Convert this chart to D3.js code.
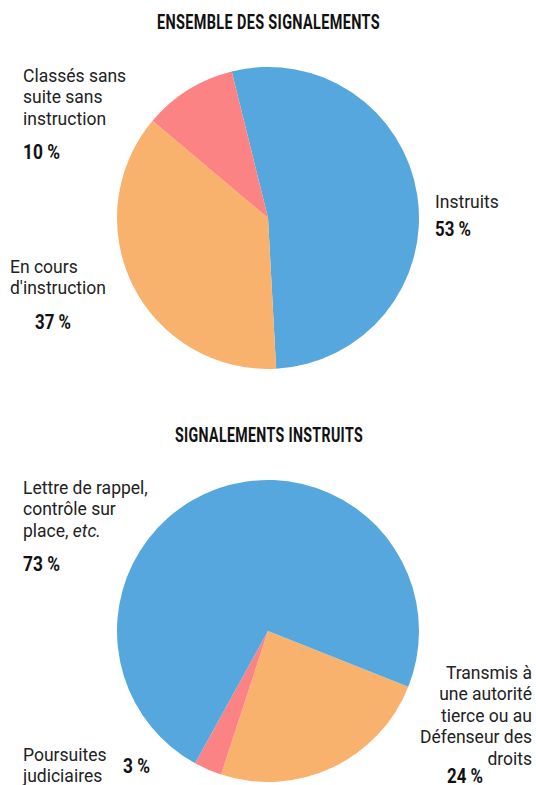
<!DOCTYPE html>
<html><head><meta charset="utf-8">
<script src="https://cdn.jsdelivr.net/npm/d3@7"></script>
<style>body{margin:0;background:#fff}svg{display:block}</style>
</head><body><svg id="c" width="536" height="785"></svg>
<script>
// Data
const titles = ["ENSEMBLE DES SIGNALEMENTS", "SIGNALEMENTS INSTRUITS"];
const topCategories = ["Instruits", "En cours d'instruction", "Classés sans suite sans instruction"];
const topValues = [53, 37, 10];
const bottomCategories = ["Transmis à une autorité tierce ou au Défenseur des droits", "Poursuites judiciaires", "Lettre de rappel, contrôle sur place, etc."];
const bottomValues = [24, 3, 73];
const colors = ["#55a7de", "#f8b26e", "#fc8383"];
const bottomColors = ["#f8b26e", "#fc8383", "#55a7de"];

const svg = d3.select("#c");
const R = 151;
const labelFont = "Roboto, 'Noto Sans', sans-serif";
const pctFont = "Roboto, 'DejaVu Sans Condensed', sans-serif";

function drawPie(cx, cy, values, cols, startDeg) {
  const pie = d3.pie().sort(null).startAngle(startDeg * Math.PI / 180).endAngle(startDeg * Math.PI / 180 + 2 * Math.PI);
  const arc = d3.arc().innerRadius(0).outerRadius(R);
  const g = svg.append("g").attr("transform", `translate(${cx},${cy})`);
  g.selectAll("path").data(pie(values)).join("path").attr("d", arc).attr("fill", (d, i) => cols[i]);
}

function title(txt, x, y, w) {
  svg.append("text").attr("x", x).attr("y", y).attr("text-anchor", "middle")
    .attr("font-family", pctFont).attr("font-weight", 700).attr("font-size", 20)
    .attr("textLength", w).attr("lengthAdjust", "spacingAndGlyphs")
    .attr("letter-spacing", 0.5).attr("fill", "#111").text(txt);
}

function label(lines, x, y, anchor) {
  const t = svg.append("text").attr("x", x).attr("y", y).attr("text-anchor", anchor || "start")
    .attr("font-family", labelFont).attr("font-size", 17.5).attr("fill", "#222");
  lines.forEach((l, i) => {
    const ts = t.append("tspan").attr("x", x).attr("dy", i === 0 ? 0 : 21.4);
    if (Array.isArray(l)) {
      l.forEach(part => ts.append("tspan").attr("font-style", part.i ? "italic" : null).text(part.t));
    } else ts.text(l);
  });
}

function pct(v, x, y, w) {
  svg.append("text").attr("x", x).attr("y", y)
    .attr("font-family", pctFont).attr("font-weight", 700).attr("font-size", 19.5)
    .attr("textLength", w).attr("lengthAdjust", "spacingAndGlyphs")
    .attr("fill", "#111").text(v + " %");
}

// Top pie
title(titles[0], 268.5, 29, 223);
drawPie(268, 218, topValues, colors, -13.9);
label(["Classés sans", "suite sans", "instruction"], 23, 82);
pct(topValues[2], 23, 158.5, 37);
label(["En cours", "d'instruction"], 10, 272.5);
pct(topValues[1], 35, 328.5, 36);
label(["Instruits"], 435, 208);
pct(topValues[0], 435, 235.5, 36);

// Bottom pie
title(titles[1], 269, 441.5, 188);
drawPie(268, 631, bottomValues, bottomColors, 111.7);
label(["Lettre de rappel,", "contrôle sur", [{t: "place, "}, {t: "etc.", i: true}]], 23, 494);
pct(bottomValues[2], 23, 570.5, 37);
label(["Transmis à", "une autorité", "tierce ou au", "Défenseur des", "droits"], 532, 679, "end");
pct(bottomValues[0], 447, 782.5, 36);
label(["Poursuites", "judiciaires"], 23, 761);
pct(bottomValues[1], 123, 772.5, 27);
</script></body></html>
